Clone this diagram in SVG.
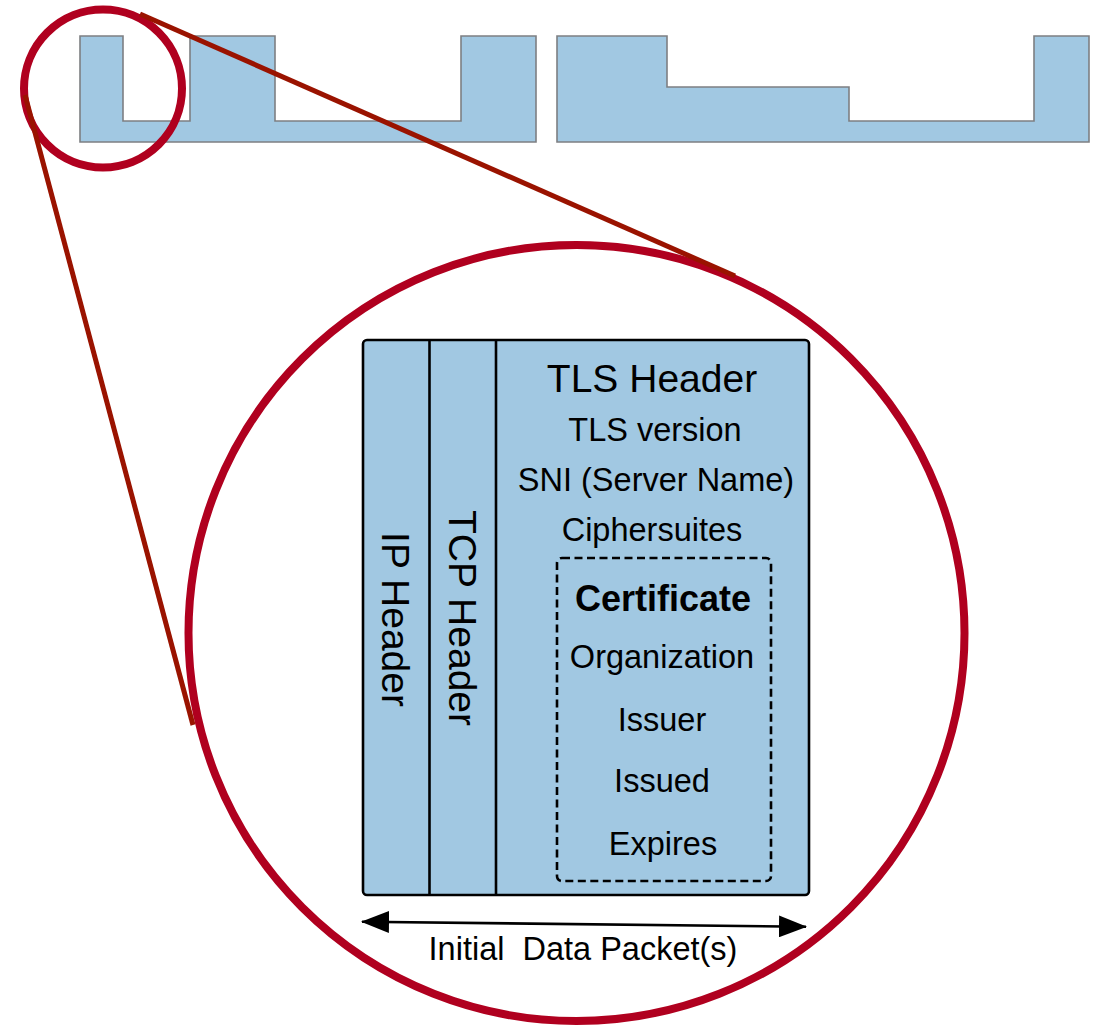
<svg xmlns="http://www.w3.org/2000/svg" width="1101" height="1031" viewBox="0 0 1101 1031">
  <style>
    .band { fill: #a1c8e2; stroke: #7d7f82; stroke-width: 1.6; stroke-linejoin: miter; }
    .cell { fill: #a1c8e2; stroke: #000; stroke-width: 2.6; }
    .lens { fill: none; stroke: #b0001f; stroke-width: 8; }
    .ray { stroke: #9a1300; stroke-width: 5; stroke-linecap: butt; }
    .t { font-family: "Liberation Sans", Arial, Helvetica, sans-serif; fill: #000; text-anchor: middle; }
    .title { font-size: 39px; }
    .body { font-size: 32.5px; }
    .bold { font-size: 36px; font-weight: bold; }
  </style>
  <defs>
    <marker id="head" viewBox="0 0 28 22" refX="27" refY="11" markerWidth="28" markerHeight="22" markerUnits="userSpaceOnUse" orient="auto-start-reverse">
      <path d="M0,0 L28,11 L0,22 Z" fill="#000"/>
    </marker>
  </defs>

  <!-- packet stream outline -->
  <g id="stream-a">
    <path class="band" d="M80,36 H123 V121 H190 V36 H275 V121 H461 V36 H536 V142 H80 Z"/>
  </g>
  <g id="stream-b">
    <path class="band" d="M557,36 H667 V87 H849 V121 H1034 V36 H1089 V142 H557 Z"/>
  </g>

  <!-- magnifier circles -->
  <g id="lens-small">
    <circle class="lens" cx="103" cy="88.5" r="79"/>
  </g>
  <g id="lens-large">
    <circle class="lens" cx="576.5" cy="633" r="388"/>
  </g>

  <!-- packet layout -->
  <g id="packet">
    <rect class="cell" x="363" y="340" width="446" height="555" rx="4"/>
    <line class="cell" x1="429.5" y1="340" x2="429.5" y2="895"/>
    <line class="cell" x1="496" y1="340" x2="496" y2="895"/>
  </g>

  <g id="ip-header">
    <text class="t title" transform="translate(382,619.5) rotate(90)">IP Header</text>
  </g>
  <g id="tcp-header">
    <text class="t title" transform="translate(449,618) rotate(90)">TCP Header</text>
  </g>

  <g id="tls-header">
    <text class="t title" x="652" y="392">TLS Header</text>
    <text class="t body" x="655" y="441">TLS version</text>
    <text class="t body" x="656" y="491">SNI (Server Name)</text>
    <text class="t body" x="652" y="541">Ciphersuites</text>
  </g>

  <g id="certificate">
    <rect x="557" y="558" width="214" height="323" rx="5" fill="none" stroke="#000" stroke-width="2.6" stroke-dasharray="8 4.5"/>
    <text class="t bold" x="663" y="611">Certificate</text>
    <text class="t body" x="662" y="668">Organization</text>
    <text class="t body" x="662" y="731">Issuer</text>
    <text class="t body" x="662" y="792">Issued</text>
    <text class="t body" x="663" y="855">Expires</text>
  </g>

  <g id="packet-label">
    <text class="t body" x="583" y="960" xml:space="preserve">Initial  Data Packet(s)</text>
  </g>

  <!-- connectors -->
  <g id="connectors">
    <line class="ray" x1="140" y1="14" x2="735" y2="276"/>
    <line class="ray" x1="25" y1="95" x2="193" y2="725"/>
    <line x1="362" y1="921.7" x2="806" y2="926.7" stroke="#000" stroke-width="2.6" marker-start="url(#head)" marker-end="url(#head)"/>
  </g>
</svg>
